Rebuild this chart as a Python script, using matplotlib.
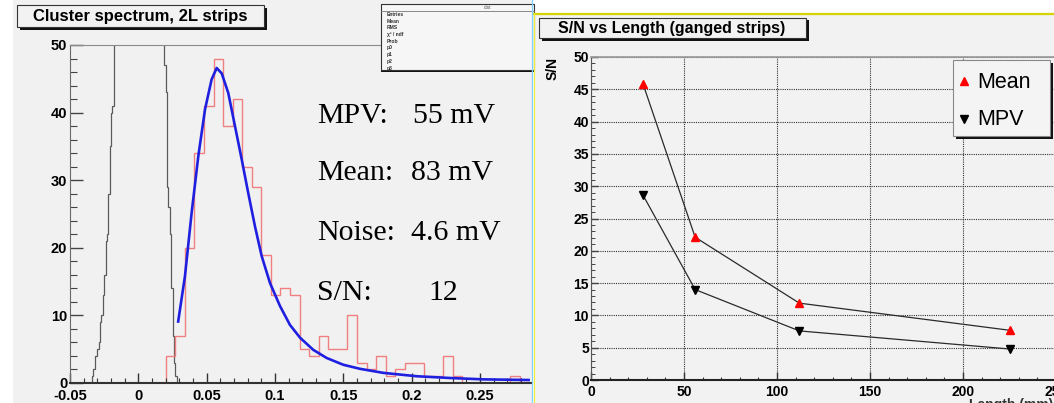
import matplotlib
matplotlib.use("Agg")
import matplotlib.pyplot as plt
from matplotlib.patches import Rectangle
from matplotlib.lines import Line2D
from matplotlib.ticker import MultipleLocator, FuncFormatter
import numpy as np

# ---------------------------------------------------------------------------
# data
# ---------------------------------------------------------------------------

# pedestal (noise) histogram, variable bins; middle bin is off scale
ped_edges = [-0.034, -0.033, -0.032, -0.031, -0.030, -0.029, -0.028, -0.027,
             -0.026, -0.025, -0.024, -0.023, -0.022, -0.021, -0.020, -0.019,
             -0.018, 0.019, 0.020, 0.021, 0.022, 0.023, 0.024, 0.025, 0.026,
             0.027, 0.028]
ped_counts = [1, 2, 4, 4, 5, 6, 9, 10, 13, 16, 21, 22, 28, 35, 40, 41,
              400, 47, 43, 29, 26, 22, 14, 7, 3, 1]

# cluster signal histogram
sig_lo = 0.020
sig_w = 0.007
sig_counts = [4, 7, 20, 34, 41, 48, 38, 42, 32, 29, 19, 13, 14, 13, 5, 4, 7,
              5, 5, 10, 3, 2, 4, 1, 2, 3, 3, 1, 1, 4, 1, 0, 0, 0, 0, 0, 1, 0, 0]

# Landau fit curve
fit_x = [0.029, 0.0341, 0.039, 0.0439, 0.0488, 0.0536, 0.0573, 0.061, 0.0658,
         0.0707, 0.0756, 0.0804, 0.0853, 0.0902, 0.0963, 0.1036, 0.1109,
         0.1183, 0.128, 0.1378, 0.1499, 0.1621, 0.1792, 0.2036, 0.228,
         0.2523, 0.2865]
fit_y = [8.9, 15.8, 25.2, 33.6, 40.5, 44.9, 46.6, 45.8, 42.9, 38.0, 33.1,
         28.1, 23.2, 18.8, 14.8, 11.4, 8.6, 6.7, 4.9, 3.7, 2.7, 2.1, 1.5, 1.0,
         0.74, 0.54, 0.44]

fit_labels = ["MPV:", "Mean:", "Noise:", "S/N:"]
fit_values = ["55 mV", "83 mV", "4.6 mV", "12"]

stat_rows = ["Entries", "Mean", "RMS", "\u03c7\u00b2 / ndf", "Prob", "p0", "p1", "p2", "p3"]

# S/N vs length
lengths = [28, 56, 112, 225]
sn_mean = [45.8, 22.1, 11.9, 7.7]
sn_mpv = [28.6, 14.0, 7.6, 4.8]

# ---------------------------------------------------------------------------
# helpers (pixel coords, origin top-left)
# ---------------------------------------------------------------------------
W, H = 1054, 403
PAD_BG = "#f1f1f1"
plt.rcParams["font.family"] = ["Liberation Sans", "DejaVu Sans"]


def fx(px):
    return px / W


def fy(py):
    return 1 - py / H


fig = plt.figure(figsize=(W / 100, H / 100), dpi=100)
fig.patch.set_facecolor("white")


def rect(x0, y0, x1, y1, face, edge="none", lw=0.8, z=5):
    fig.add_artist(Rectangle((fx(x0), fy(y1)), (x1 - x0) / W, (y1 - y0) / H,
                             transform=fig.transFigure, facecolor=face,
                             edgecolor=edge, linewidth=lw, zorder=z))


def root_box(x0, y0, x1, y1, shadow=3, face="#f3f3f3", edge="#333333", z=5):
    if shadow:
        rect(x0 + shadow, y0 + shadow, x1 + shadow, y1 + shadow, "#111111", z=z)
    rect(x0, y0, x1, y1, face, edge, 0.8, z=z)


def hline(x0, x1, y, color, lw, z=6):
    fig.add_artist(Line2D([fx(x0), fx(x1)], [fy(y), fy(y)], transform=fig.transFigure,
                          color=color, linewidth=lw, zorder=z))


def vline(x, y0, y1, color, lw, z=6):
    fig.add_artist(Line2D([fx(x), fx(x)], [fy(y0), fy(y1)], transform=fig.transFigure,
                          color=color, linewidth=lw, zorder=z))


def style_ticks(ax, size):
    for lab in ax.get_xticklabels() + ax.get_yticklabels():
        lab.set_fontweight("bold")
        lab.set_fontsize(size)


# pad backgrounds
rect(13, 0, 532, 403, PAD_BG, z=-5)
rect(534, 13, 1054, 403, "#f2f2f2", z=-5)

# ---------------------------------------------------------------------------
# left: cluster spectrum
# ---------------------------------------------------------------------------
ax1 = fig.add_axes([fx(70), fy(383), (532 - 70) / W, (383 - 45) / H])
ax1.set_facecolor("none")
ax1.stairs(ped_counts, ped_edges, color="#5a5a5a", linewidth=0.9)
sig_edges = sig_lo + sig_w * np.arange(len(sig_counts) + 1)
ax1.stairs(sig_counts, sig_edges, color="#f08080", linewidth=1.0)
ax1.plot(fit_x, fit_y, color="#1f1fe0", linewidth=1.9, solid_capstyle="butt")

ax1.set_xlim(-0.05, 0.288)
ax1.set_ylim(0, 50)
ax1.xaxis.set_major_locator(MultipleLocator(0.05))
ax1.xaxis.set_minor_locator(MultipleLocator(0.01))
ax1.yaxis.set_major_locator(MultipleLocator(10))
ax1.yaxis.set_minor_locator(MultipleLocator(2))
ax1.xaxis.set_major_formatter(FuncFormatter(lambda v, p: f"{round(v, 4) + 0.0:g}"))
ax1.tick_params(axis="x", which="major", direction="in", length=7, width=1,
                color="#333333", pad=4.5)
ax1.tick_params(axis="x", which="minor", direction="in", length=3.5, width=0.8,
                color="#333333")
ax1.tick_params(axis="y", which="major", direction="in", length=9, width=1,
                color="#444444", pad=2)
ax1.tick_params(axis="y", which="minor", direction="in", length=5, width=0.8,
                color="#444444")
ax1.spines["right"].set_visible(False)
ax1.spines["top"].set_color("#8a8a8a")
ax1.spines["left"].set_color("#6a6a6a")
ax1.spines["bottom"].set_color("#333333")
ax1.spines["bottom"].set_linewidth(1.5)
style_ticks(ax1, 10.5)

bases = [123, 180, 240, 300]
for lab, base in zip(fit_labels, bases):
    fig.text(fx(317), fy(base), lab, family="Liberation Serif", fontsize=21.5,
             va="baseline", ha="left", zorder=6)
for val, base, x0 in zip(fit_values, bases, [413, 411, 411, 428]):
    fig.text(fx(x0), fy(base), val, family="Liberation Serif",
             fontsize=21.5, va="baseline", ha="left", zorder=6)

# title box
root_box(17, 5, 264, 27, shadow=2.5, face="#f2f2f2")
fig.text(fx(140), fy(16.5), "Cluster spectrum, 2L strips", fontsize=12,
         fontweight="bold", ha="center", va="center", zorder=7)

# stat box
rect(381, 4, 534, 72, "#111111", z=5)
rect(381, 4, 534, 70, "#f6f6f6", "#333333", 0.8, z=5)
hline(381, 534, 11, "#777777", 0.6)
fig.text(fx(487), fy(7.5), "clst", fontsize=3.5, ha="center", va="center",
         color="#555555", zorder=7)
for i, row in enumerate(stat_rows):
    fig.text(fx(387), fy(14.5 + i * 6.7), row, fontsize=3.6, ha="left",
             va="center", color="#333333", fontweight="bold", zorder=7)

# ---------------------------------------------------------------------------
# right: S/N vs length
# ---------------------------------------------------------------------------
ax2 = fig.add_axes([fx(591), fy(380), 465 / W, (380 - 57) / H])
ax2.set_facecolor("none")
ax2.plot(lengths, sn_mean, color="#2a2a2a", linewidth=0.9, zorder=3)
ax2.plot(lengths, sn_mpv, color="#2a2a2a", linewidth=0.9, zorder=3)
ax2.plot(lengths, sn_mean, linestyle="none", marker="^", markersize=6,
         color="#ff0000", zorder=4)
ax2.plot(lengths, sn_mpv, linestyle="none", marker="v", markersize=6,
         color="#000000", zorder=4)

ax2.set_xlim(0, 250)
ax2.set_ylim(0, 50)
ax2.xaxis.set_major_locator(MultipleLocator(50))
ax2.xaxis.set_minor_locator(MultipleLocator(10))
ax2.yaxis.set_major_locator(MultipleLocator(5))
ax2.yaxis.set_minor_locator(MultipleLocator(1))
ax2.grid(True, which="major", linestyle=(0, (1, 1)), color="#333333",
         linewidth=0.8, zorder=1)
ax2.set_axisbelow(True)
ax2.tick_params(axis="x", which="major", direction="in", length=6, width=1,
                color="#333333", pad=3.5)
ax2.tick_params(axis="x", which="minor", direction="in", length=2.5, width=0.8,
                color="#333333")
ax2.tick_params(axis="y", which="major", direction="in", length=5, width=1,
                color="#444444", pad=1.5)
ax2.tick_params(axis="y", which="minor", direction="in", length=3, width=0.7,
                color="#444444")
ax2.spines["right"].set_visible(False)
ax2.spines["top"].set_color("#999999")
ax2.spines["top"].set_linewidth(1.2)
ax2.spines["left"].set_color("#555555")
ax2.spines["bottom"].set_color("#222222")
ax2.spines["bottom"].set_linewidth(1.5)
style_ticks(ax2, 10)

fig.text(fx(553), fy(57), "S/N", rotation=90, fontsize=10, fontweight="bold",
         ha="center", va="top", zorder=6)
fig.text(fx(1053), fy(398), "Length (mm)", fontsize=10, fontweight="bold",
         ha="right", va="top", color="#333333", zorder=6)

# title box
root_box(539, 18, 806, 38, shadow=2.5, face="#f2f2f2")
fig.text(fx(672), fy(28), "S/N vs Length (ganged strips)", fontsize=11.5,
         fontweight="bold", ha="center", va="center", zorder=7)

# legend box
root_box(953, 60, 1050, 136, shadow=3, face="#f4f4f4", edge="#888888")
for i, (name, mk, col) in enumerate([("Mean", "^", "#ff0000"), ("MPV", "v", "#000000")]):
    yy = 81 + i * 38
    fig.add_artist(Line2D([fx(964)], [fy(yy)], transform=fig.transFigure,
                          marker=mk, markersize=5.5, color=col, linestyle="none",
                          zorder=7))
    fig.text(fx(977), fy(yy + 1), name, fontsize=15.5, ha="left", va="center",
             zorder=7)

# pad borders
hline(534, 1054, 13.5, "#d6d300", 1.6, z=8)
vline(532.3, 0, 403, "#7fcfff", 0.9, z=8)
vline(533.6, 13, 403, "#f3ee3c", 0.9, z=8)

fig.savefig("out.png", dpi=100, facecolor="white")
